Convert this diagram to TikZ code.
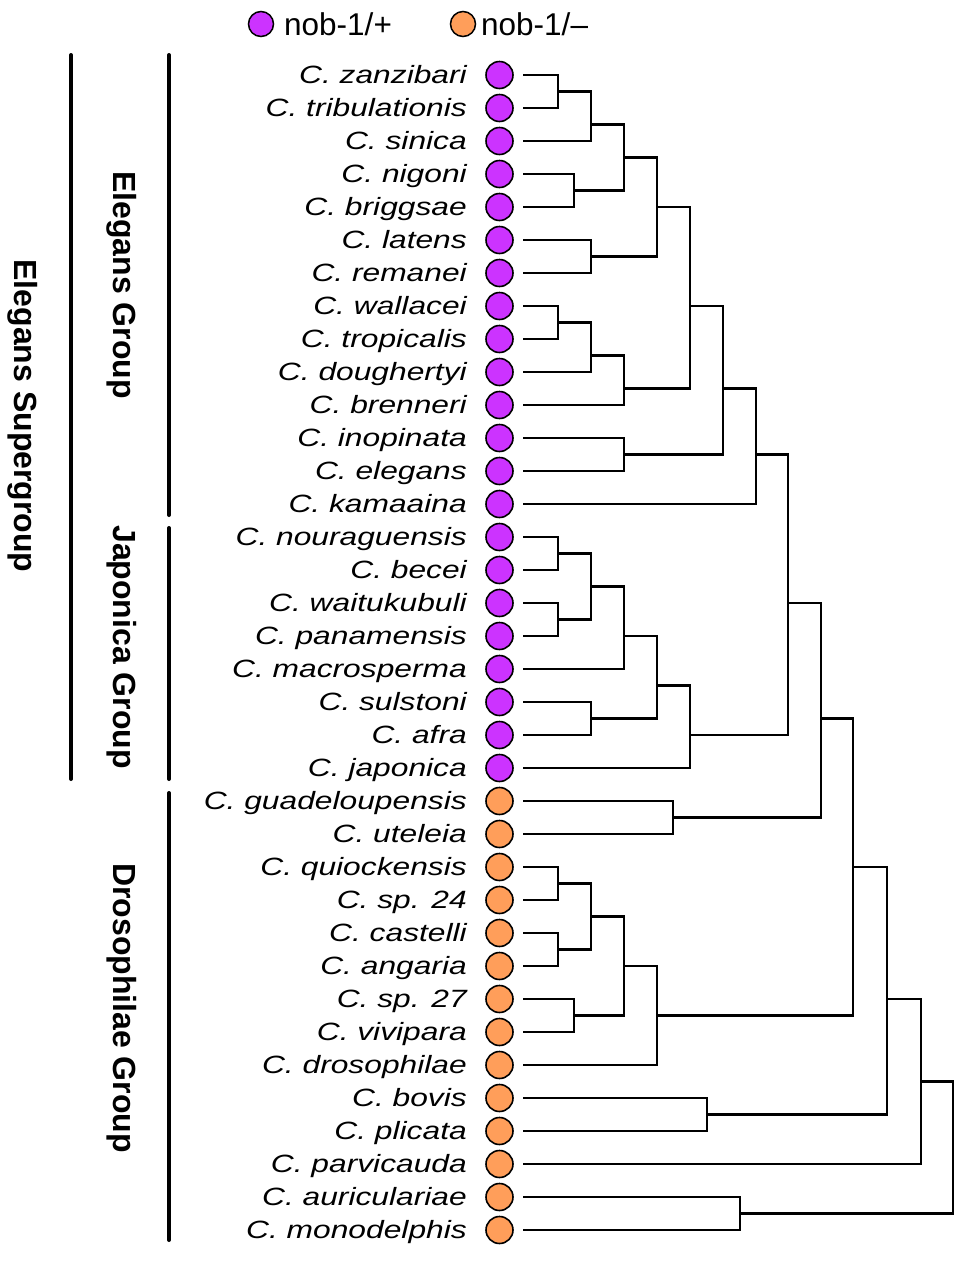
\documentclass[tikz,border=0pt]{standalone}
\usepackage{fontspec}
\setmainfont{Liberation Sans}
\definecolor{nobplus}{HTML}{CC33FF}
\definecolor{nobminus}{HTML}{FF9E5A}
\tikzset{
  br/.style={line width=2.6pt, line join=miter, line cap=butt},
  grp/.style={line width=4pt, line cap=round},
  dotp/.style={circle, draw=black, line width=1.6pt, fill=nobplus, minimum size=27pt, inner sep=0pt},
  dotm/.style={circle, draw=black, line width=1.6pt, fill=nobminus, minimum size=27pt, inner sep=0pt},
  legdotp/.style={circle, draw=black, line width=1.5pt, fill=nobplus, minimum size=25pt, inner sep=0pt},
  legdotm/.style={circle, draw=black, line width=1.5pt, fill=nobminus, minimum size=25pt, inner sep=0pt},
  sp/.style={anchor=base east, inner sep=0pt, font=\fontsize{25}{25}\selectfont\itshape},
  glab/.style={rotate=-90, inner sep=0pt, font=\fontsize{32}{32}\selectfont\bfseries},
  leg/.style={anchor=base west, inner sep=0pt, font=\fontsize{31.5}{31.5}\selectfont},
}
\newcommand{\Sp}[1]{\scalebox{1.27}[1]{#1}}
\begin{document}
\begin{tikzpicture}[x=1pt,y=-1pt]
\useasboundingbox (0,0) rectangle (968,1262);
% legend
\node[legdotp] (lp) at (261,24) {};
\node[leg] (lpt) at (284,35) {nob-1/+};
\node[legdotm] (lm) at (463,24) {};
\node[leg] (lmt) at (481,35) {nob-1/–};
% species
\foreach \i/\name/\st in {
 0/zanzibari/dotp, 1/tribulationis/dotp, 2/sinica/dotp, 3/nigoni/dotp,
 4/briggsae/dotp, 5/latens/dotp, 6/remanei/dotp, 7/wallacei/dotp,
 8/tropicalis/dotp, 9/doughertyi/dotp, 10/brenneri/dotp, 11/inopinata/dotp,
 12/elegans/dotp, 13/kamaaina/dotp, 14/nouraguensis/dotp, 15/becei/dotp,
 16/waitukubuli/dotp, 17/panamensis/dotp, 18/macrosperma/dotp, 19/sulstoni/dotp,
 20/afra/dotp, 21/japonica/dotp, 22/guadeloupensis/dotm, 23/uteleia/dotm,
 24/quiockensis/dotm, 25/sp. 24/dotm, 26/castelli/dotm, 27/angaria/dotm,
 28/sp. 27/dotm, 29/vivipara/dotm, 30/drosophilae/dotm, 31/bovis/dotm,
 32/plicata/dotm, 33/parvicauda/dotm, 34/auriculariae/dotm, 35/monodelphis/dotm}{
  \pgfmathsetmacro{\yy}{75+33*\i}
  \pgfmathsetmacro{\yb}{75+33*\i+8.7}
  \node[sp] (t\i) at (467,\yb) {\Sp{C. \name}};
  \node[\st] (c\i) at (499.5,\yy) {};
  \coordinate (L\i) at (523,\yy);
}
% internal nodes
\newcommand{\IN}[3]{\coordinate (#1) at (#2,{75+33*#3});}
\IN{n1}{558}{0.5}\IN{n2}{591}{1.5}\IN{n3}{574}{3.5}\IN{n4}{624}{2.5}
\IN{n5}{591}{5.5}\IN{n6}{657}{4}\IN{n7}{558}{7.5}\IN{n8}{591}{8.5}
\IN{n9}{624}{9.5}\IN{n10}{690}{7}\IN{n11}{624}{11.5}\IN{n12}{723}{9.5}
\IN{n13}{756}{11.5}
\IN{j1}{558}{14.5}\IN{j2}{558}{16.5}\IN{j3}{591}{15.5}\IN{j4}{624}{17}
\IN{j5}{591}{19.5}\IN{j6}{657}{18.5}\IN{j7}{690}{20}
\IN{s1}{788}{16}\IN{d1}{673}{22.5}\IN{s2}{821}{19.5}
\IN{d2}{558}{24.5}\IN{d3}{558}{26.5}\IN{d4}{591}{25.5}\IN{d5}{574}{28.5}
\IN{d6}{624}{27}\IN{d7}{657}{28.5}\IN{s3}{853}{24}\IN{d8}{707}{31.5}
\IN{s4}{887}{28}\IN{s5}{921}{30.5}\IN{d9}{740}{34.5}\IN{root}{953}{32.5}
% branches: parent / top child / bottom child
\foreach \p/\a/\b in {
 n1/L0/L1, n2/n1/L2, n3/L3/L4, n4/n2/n3, n5/L5/L6, n6/n4/n5,
 n7/L7/L8, n8/n7/L9, n9/n8/L10, n10/n6/n9, n11/L11/L12, n12/n10/n11,
 n13/n12/L13,
 j1/L14/L15, j2/L16/L17, j3/j1/j2, j4/j3/L18, j5/L19/L20, j6/j4/j5, j7/j6/L21,
 s1/n13/j7, d1/L22/L23, s2/s1/d1,
 d2/L24/L25, d3/L26/L27, d4/d2/d3, d5/L28/L29, d6/d4/d5, d7/d6/L30,
 s3/s2/d7, d8/L31/L32, s4/s3/d8, s5/s4/L33, d9/L34/L35, root/s5/d9}{
  \draw[br] (\a) -| (\p) |- (\b);
}
% group bars
\coordinate (sgA) at (71,55); \coordinate (sgB) at (71,779);
\coordinate (egA) at (169,55); \coordinate (egB) at (169,515);
\coordinate (jgA) at (169,528); \coordinate (jgB) at (169,779);
\coordinate (dgA) at (169,793); \coordinate (dgB) at (169,1240);
\draw[grp] (sgA) -- (sgB);
\draw[grp] (egA) -- (egB);
\draw[grp] (jgA) -- (jgB);
\draw[grp] (dgA) -- (dgB);
\node[glab] (sgl) at (23,416) {Elegans Supergroup};
\node[glab] (egl) at (122,285) {Elegans Group};
\node[glab] (jgl) at (122,647) {Japonica Group};
\node[glab] (dgl) at (122,1008) {Drosophilae Group};
\end{tikzpicture}
\end{document}
